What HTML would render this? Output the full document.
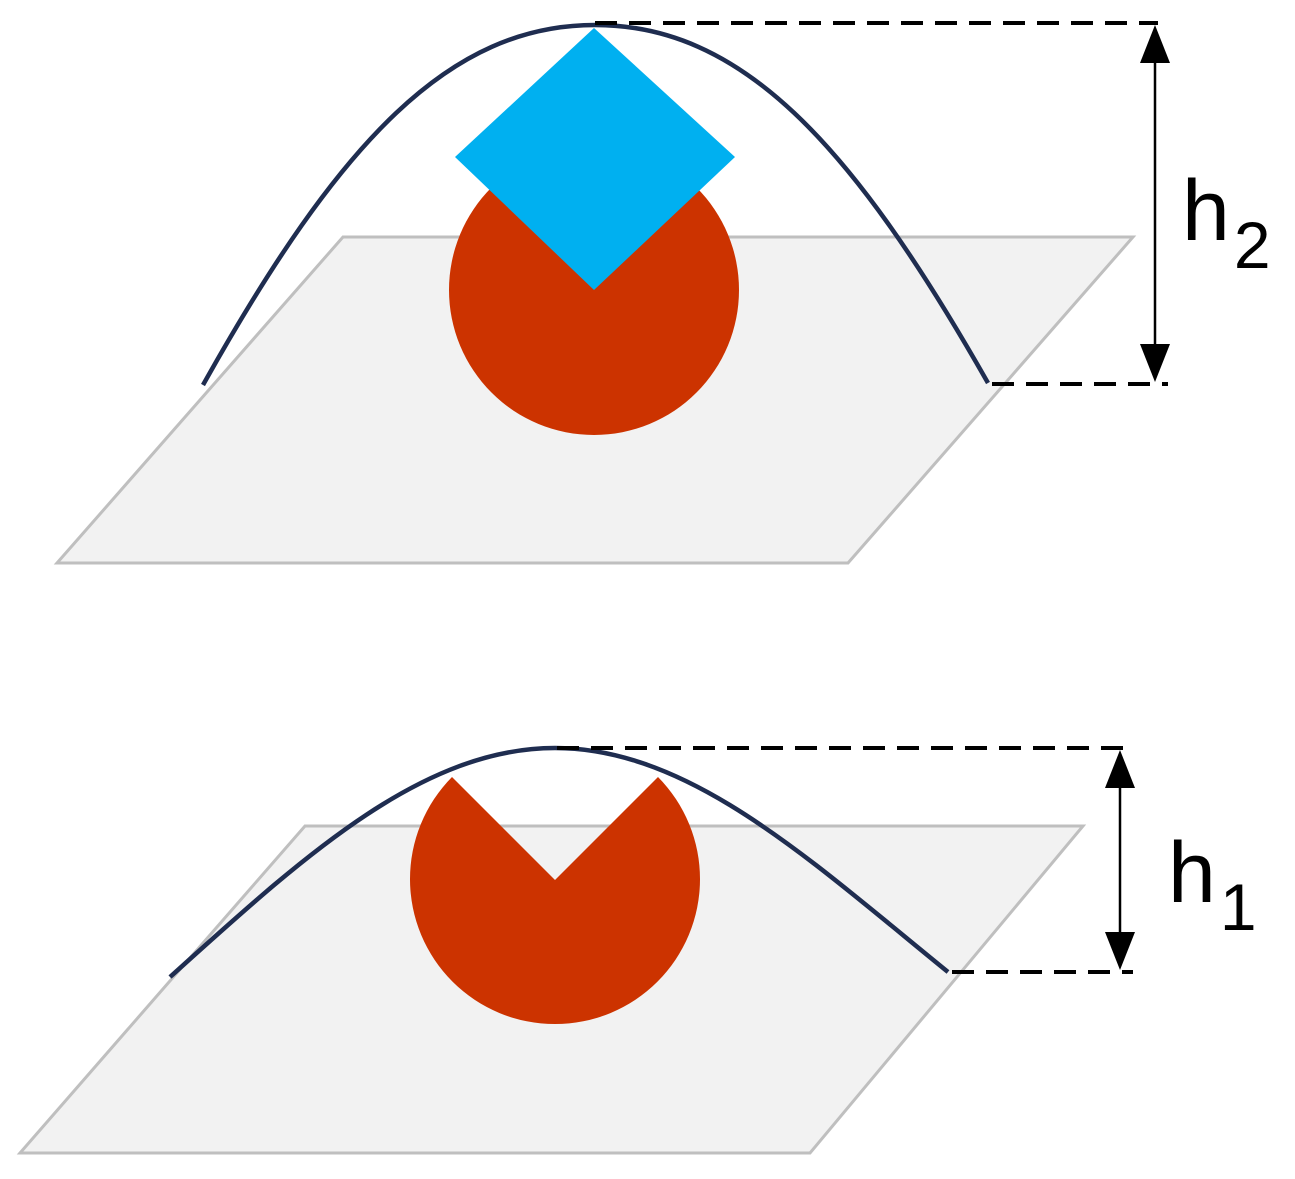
<!DOCTYPE html>
<html><head><meta charset="utf-8"><style>
html,body{margin:0;padding:0;background:#fff;}
svg{display:block;}
</style></head><body>
<svg width="1295" height="1179" viewBox="0 0 1295 1179" xmlns="http://www.w3.org/2000/svg">
<polygon points="343,237 1133,237 848,563 57,563" fill="#f2f2f2" stroke="#bfbfbf" stroke-width="3"/>
<circle cx="594" cy="290" r="145" fill="#cc3300"/>
<polygon points="594,28 735,157 594,290 455,157" fill="#00b0f0"/>
<path d="M203,385 C340,140 450,25 595,25 C740,25 850,140 988,383" fill="none" stroke="#1f2d50" stroke-width="4.5"/>
<line x1="595" y1="23" x2="1158" y2="23" stroke="#000" stroke-width="4" stroke-dasharray="22,12"/>
<line x1="992" y1="384" x2="1168" y2="384" stroke="#000" stroke-width="4" stroke-dasharray="22,12"/>
<line x1="1155" y1="40" x2="1155" y2="368" stroke="#000" stroke-width="2.5"/>
<polygon points="1155,25 1140,63 1170,63" fill="#000"/>
<polygon points="1155,382 1140,344 1170,344" fill="#000"/>
<text x="1182" y="240" font-family="Liberation Sans, sans-serif" font-size="86" fill="#000">h<tspan font-size="66" dx="4" dy="28">2</tspan></text>
<polygon points="305,826 1083,826 810,1153 20,1153" fill="#f2f2f2" stroke="#bfbfbf" stroke-width="3"/>
<path d="M555,880 L452,777 A145,145 0 1 0 658,777 Z" fill="#cc3300"/>
<path d="M170,977 C300,860 420,748 555,748 C690,748 810,860 948,972" fill="none" stroke="#1f2d50" stroke-width="4.5"/>
<line x1="557" y1="748" x2="1123" y2="748" stroke="#000" stroke-width="4" stroke-dasharray="22,12"/>
<line x1="952" y1="972" x2="1133" y2="972" stroke="#000" stroke-width="4" stroke-dasharray="22,12"/>
<line x1="1120" y1="765" x2="1120" y2="956" stroke="#000" stroke-width="2.5"/>
<polygon points="1120,750 1105,788 1135,788" fill="#000"/>
<polygon points="1120,970 1105,932 1135,932" fill="#000"/>
<text x="1168" y="902" font-family="Liberation Sans, sans-serif" font-size="86" fill="#000">h<tspan font-size="66" dx="4" dy="28">1</tspan></text>
</svg>
</body></html>
